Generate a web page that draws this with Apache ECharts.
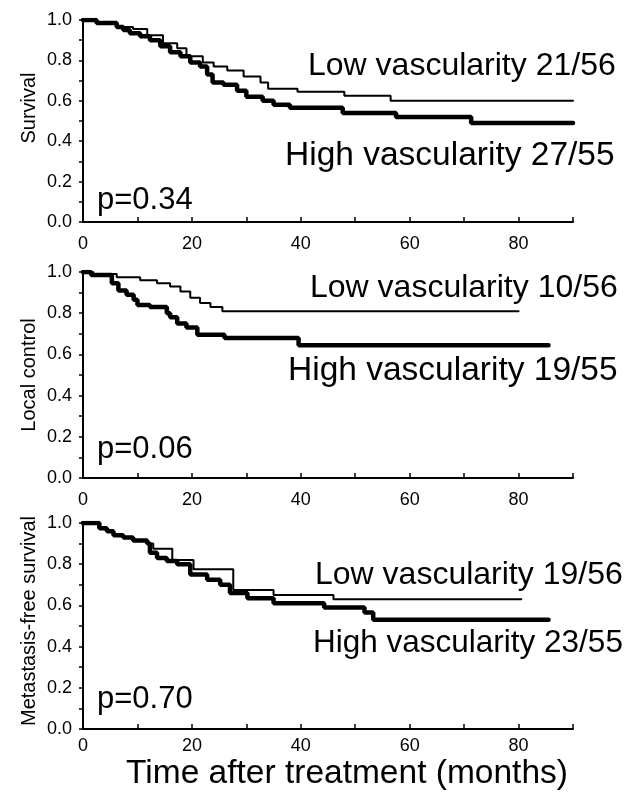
<!DOCTYPE html>
<html>
<head>
<meta charset="utf-8">
<script src="https://cdn.jsdelivr.net/npm/echarts@6/dist/echarts.min.js"></script>
<style>
html,body{margin:0;padding:0;background:#fff;}
#c{width:632px;height:794px;}
</style>
</head>
<body>
<div id="c"></div>
<script>
// ---- Data ----
// Panel 1: Survival
const survLowT  = [0, 2.5, 6.2, 9.2, 11.8, 14.7, 17.3, 19, 22, 24, 26.5, 29.5, 32.6, 34, 39.4, 48, 56.5, 90];
const survLowS  = [1.0, 0.985, 0.965, 0.955, 0.925, 0.885, 0.86, 0.82, 0.79, 0.77, 0.75, 0.72, 0.69, 0.66, 0.645, 0.625, 0.60, 0.60];
const survHighT = [0, 2.5, 6.2, 7.4, 8.6, 10.5, 12.3, 14.2, 16, 17.9, 19.7, 21.5, 22.8, 23.8, 25.8, 28.3, 30, 33, 35, 38, 47.7, 57.5, 71.3, 90];
const survHighS = [1.0, 0.985, 0.965, 0.95, 0.935, 0.92, 0.90, 0.87, 0.84, 0.82, 0.79, 0.77, 0.73, 0.69, 0.68, 0.65, 0.62, 0.60, 0.58, 0.565, 0.54, 0.52, 0.49, 0.49];

// Panel 2: Local control
const lcLowT  = [0, 1.9, 6.2, 10.5, 13.6, 16, 17.9, 19.7, 21.5, 23.4, 25.6, 80];
const lcLowS  = [1.0, 0.99, 0.975, 0.96, 0.945, 0.93, 0.905, 0.875, 0.85, 0.83, 0.81, 0.81];
const lcHighT = [0, 1.5, 5.3, 6.5, 8, 9.3, 10, 12.3, 15.4, 16, 17.3, 19, 21, 26, 39.6, 85.5];
const lcHighS = [1.0, 0.985, 0.945, 0.91, 0.89, 0.865, 0.84, 0.83, 0.80, 0.78, 0.75, 0.73, 0.695, 0.68, 0.645, 0.645];

// Panel 3: Metastasis-free survival
const mfLowT  = [0, 3, 4.4, 5.6, 7.4, 9.2, 11.8, 12.9, 16.4, 20.3, 27.6, 35, 46, 80.5];
const mfLowS  = [1.0, 0.975, 0.96, 0.94, 0.93, 0.915, 0.90, 0.875, 0.82, 0.775, 0.675, 0.65, 0.63, 0.63];
const mfHighT = [0, 3, 4.4, 5.6, 7.4, 9.2, 11.8, 12.3, 13.6, 15.4, 17.3, 19.7, 22.8, 25.2, 27, 30.2, 35, 44.3, 51.7, 53.3, 85.5];
const mfHighS = [1.0, 0.975, 0.96, 0.94, 0.93, 0.915, 0.90, 0.855, 0.83, 0.815, 0.80, 0.75, 0.725, 0.70, 0.66, 0.635, 0.61, 0.59, 0.565, 0.53, 0.53];

// Texts
const yTitles   = ['Survival', 'Local control', 'Metastasis-free survival'];
const lowLabels = ['Low vascularity 21/56', 'Low vascularity 10/56', 'Low vascularity 19/56'];
const highLabels= ['High vascularity 27/55', 'High vascularity 19/55', 'High vascularity 23/55'];
const pLabels   = ['p=0.34', 'p=0.06', 'p=0.70'];
const xTitle    = 'Time after treatment (months)';
const xMax = 90;

// ---- Build chart ----
const FONT = '"Liberation Sans", Arial, Helvetica, sans-serif';
const zip = (t, s) => t.map((v, i) => [v, s[i]]);
const panels = [
  {low: zip(survLowT, survLowS), high: zip(survHighT, survHighS)},
  {low: zip(lcLowT, lcLowS),     high: zip(lcHighT, lcHighS)},
  {low: zip(mfLowT, mfLowS),     high: zip(mfHighT, mfHighS)}
];
const layout = [
  {top: 20,  height: 202, labelMargin: 13, lowPos: [308, 66],  highPos: [285, 156], highSize: 33.5, pPos: [97, 200], yT: 108},
  {top: 272, height: 206, labelMargin: 13, lowPos: [310, 288], highPos: [288, 371], highSize: 33.5, pPos: [97, 449], yT: 375},
  {top: 523, height: 206, labelMargin: 8,  lowPos: [315, 575], highPos: [313, 643], highSize: 31.5, pPos: [97, 699], yT: 621}
];

const grids = [], xAxes = [], yAxes = [], series = [], graphics = [];
layout.forEach((L, i) => {
  grids.push({left: 83, width: 490, top: L.top, height: L.height});
  xAxes.push({
    type: 'value', gridIndex: i, min: 0, max: xMax, interval: 10,
    axisLine: {show: true, onZero: false, lineStyle: {color: '#000', width: 2}},
    axisTick: {show: true, inside: true, length: 5, lineStyle: {color: '#000', width: 1.5}},
    splitLine: {show: false},
    axisLabel: {
      margin: L.labelMargin, color: '#000', fontSize: 18, fontFamily: FONT,
      formatter: v => (Math.round(v) % 20 === 0 ? String(Math.round(v)) : '')
    }
  });
  yAxes.push({
    type: 'value', gridIndex: i, min: 0, max: 1, interval: 0.1,
    axisLine: {show: true, onZero: false, lineStyle: {color: '#000', width: 2}},
    axisTick: {show: true, inside: false, length: 4, lineStyle: {color: '#000', width: 1.5}},
    splitLine: {show: false},
    axisLabel: {
      margin: 11, color: '#000', fontSize: 18, fontFamily: FONT,
      formatter: v => (Math.round(v * 10) % 2 === 0 ? v.toFixed(1) : '')
    }
  });
  series.push({
    type: 'line', step: 'end', xAxisIndex: i, yAxisIndex: i, data: panels[i].low,
    symbol: 'none', lineStyle: {color: '#000', width: 2, cap: 'round'}, z: 3, animation: false
  });
  series.push({
    type: 'line', step: 'end', xAxisIndex: i, yAxisIndex: i, data: panels[i].high,
    symbol: 'none', lineStyle: {color: '#000', width: 4.5, cap: 'round'}, z: 2, animation: false
  });
  graphics.push({type: 'text', x: L.lowPos[0], y: L.lowPos[1],
    style: {text: lowLabels[i], fill: '#000', font: '32px ' + FONT, textAlign: 'left', textVerticalAlign: 'middle'}});
  graphics.push({type: 'text', x: L.highPos[0], y: L.highPos[1],
    style: {text: highLabels[i], fill: '#000', font: L.highSize + 'px ' + FONT, textAlign: 'left', textVerticalAlign: 'middle'}});
  graphics.push({type: 'text', x: L.pPos[0], y: L.pPos[1],
    style: {text: pLabels[i], fill: '#000', font: '31px ' + FONT, textAlign: 'left', textVerticalAlign: 'middle'}});
  graphics.push({type: 'text', x: 29, y: L.yT, rotation: Math.PI / 2,
    style: {text: yTitles[i], fill: '#000', font: '20px ' + FONT, textAlign: 'center', textVerticalAlign: 'middle'}});
});
graphics.push({type: 'text', x: 347, y: 774,
  style: {text: xTitle, fill: '#000', font: '33.5px ' + FONT, textAlign: 'center', textVerticalAlign: 'middle'}});

const chart = echarts.init(document.getElementById('c'), null, {renderer: 'canvas'});
chart.setOption({
  animation: false,
  backgroundColor: '#fff',
  grid: grids, xAxis: xAxes, yAxis: yAxes, series: series, graphic: graphics
});
</script>
</body>
</html>
